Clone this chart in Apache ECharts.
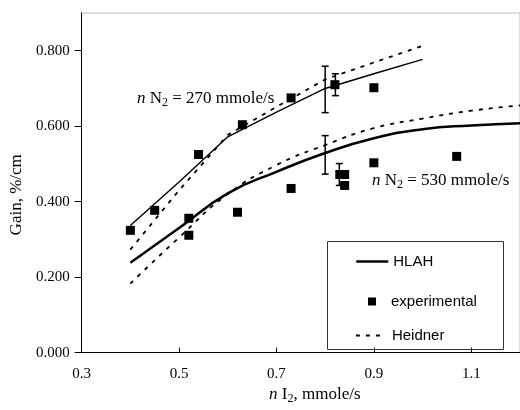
<!DOCTYPE html>
<html><head><meta charset="utf-8">
<script src="https://cdn.jsdelivr.net/npm/echarts@6/dist/echarts.min.js"></script>
<style>html,body{margin:0;padding:0;background:#fff}#c{width:520px;height:410px}</style>
</head><body><div id="c"></div>
<script>
// Tick labels
const xTicks = [0.3, 0.5, 0.7, 0.9, 1.1];
const yTicks = [0.0, 0.2, 0.4, 0.6, 0.8];

// HLAH model, n N2 = 270 mmole/s
const hlah270 = [[0.40,0.337],[0.50,0.452],[0.60,0.572],[0.70,0.637],[0.80,0.700],[0.90,0.739],[1.00,0.777]];
// Heidner model, n N2 = 270 mmole/s
const heidner270 = [[0.40,0.273],[0.50,0.430],[0.60,0.577],[0.70,0.651],[0.80,0.724],[0.90,0.769],[1.00,0.813]];
// HLAH model, n N2 = 530 mmole/s
const hlah530 = [[0.40,0.238],[0.50,0.330],[0.60,0.422],[0.70,0.479],[0.80,0.529],[0.90,0.568],[1.00,0.592],[1.10,0.602],[1.20,0.608]];
// Heidner model, n N2 = 530 mmole/s
const heidner530 = [[0.40,0.183],[0.50,0.305],[0.60,0.420],[0.70,0.497],[0.80,0.550],[0.90,0.595],[1.00,0.620],[1.10,0.641],[1.20,0.655]];
// Experimental points
const experimental = [[0.40,0.324],[0.45,0.377],[0.52,0.356],[0.52,0.311],[0.54,0.525],[0.62,0.372],[0.63,0.604],
  [0.73,0.675],[0.73,0.435],[0.82,0.710],[0.83,0.472],[0.84,0.472],[0.84,0.443],[0.90,0.702],[0.90,0.503],[1.07,0.520]];
// Error bars: [x, low, high]
const errorBars = [[0.80,0.636,0.759],[0.821,0.681,0.739],[0.80,0.473,0.575],[0.829,0.443,0.501]];

const serif = 'Liberation Serif';
const sans = 'Liberation Sans';
const subRich = {
  i: {fontStyle: 'italic', fontFamily: serif, fontSize: 17, lineHeight: 20, color: '#000'},
  t: {fontFamily: serif, fontSize: 17, lineHeight: 20, color: '#000'},
  s: {fontFamily: serif, fontSize: 12, lineHeight: 8, verticalAlign: 'bottom', color: '#000'}
};
const gRich = {
  i: {fontStyle: 'italic', fontFamily: serif, fontSize: 17, lineHeight: 20, fill: '#000'},
  t: {fontFamily: serif, fontSize: 17, lineHeight: 20, fill: '#000'},
  s: {fontFamily: serif, fontSize: 12, lineHeight: 8, verticalAlign: 'bottom', fill: '#000'}
};

const chart = echarts.init(document.getElementById('c'), null, {renderer: 'canvas'});
const legendText = {fontFamily: sans, fontSize: 15, color: '#000'};
const dash = [4, 6];
chart.setOption({
  animation: false,
  backgroundColor: '#fff',
  grid: {left: 80, top: 13, right: -7, bottom: 53, show: true, borderColor: '#bdbdbd', borderWidth: 1},
  xAxis: {
    type: 'value', min: 0.3, max: 1.2, interval: 0.2,
    name: '{i|n}{t| I}{s|2}{t|, mmole/s}', nameLocation: 'middle', nameGap: 24,
    nameTextStyle: {rich: subRich, padding: [0, 0, 0, 28]},
    axisLine: {show: true, onZero: false, lineStyle: {color: '#000', width: 1}},
    axisTick: {show: true, inside: true, length: 5, lineStyle: {color: '#000'}, customValues: xTicks},
    axisLabel: {customValues: xTicks, formatter: v => v.toFixed(1), fontFamily: serif, fontSize: 15, color: '#000', margin: 14},
    splitLine: {show: false}
  },
  yAxis: {
    type: 'value', min: 0, max: 0.9, interval: 0.2,
    name: 'Gain, %/cm', nameLocation: 'middle', nameGap: 44,
    nameTextStyle: {fontFamily: serif, fontSize: 17, color: '#000', padding: [0, 24, 0, 0]},
    axisLine: {show: true, onZero: false, lineStyle: {color: '#000', width: 1}},
    axisTick: {show: true, inside: false, length: 7, lineStyle: {color: '#000'}, customValues: yTicks},
    axisLabel: {customValues: yTicks, formatter: v => v.toFixed(3), fontFamily: serif, fontSize: 15, color: '#000', margin: 12},
    splitLine: {show: false}
  },
  legend: [
    {data: ['HLAH'], left: 355, top: 254, padding: 0, itemWidth: 32, itemHeight: 10, selectedMode: false,
      itemStyle: {opacity: 0}, lineStyle: {width: 2.5}, textStyle: legendText},
    {data: [{name: 'experimental', icon: 'rect'}], left: 368, top: 294, padding: 0, itemWidth: 8, itemHeight: 8, selectedMode: false,
      textStyle: Object.assign({padding: [0, 0, 0, 10]}, legendText)},
    {data: ['Heidner'], left: 355, top: 328, padding: 0, itemWidth: 27, itemHeight: 10, selectedMode: false,
      itemStyle: {opacity: 0}, lineStyle: {width: 1.8}, textStyle: Object.assign({padding: [0, 0, 0, 4]}, legendText)}
  ],
  graphic: [
    {type: 'rect', left: 327, top: 241, z: 0, shape: {width: 176, height: 108}, style: {fill: '#fff', stroke: '#333', lineWidth: 1}},
    {type: 'text', left: 137, top: 90, style: {text: '{i|n}{t| N}{s|2}{t| = 270 mmole/s}', rich: gRich}},
    {type: 'text', left: 372, top: 172, style: {text: '{i|n}{t| N}{s|2}{t| = 530 mmole/s}', rich: gRich}}
  ],
  series: [
    {name: 'HLAH', type: 'line', data: hlah530, symbol: 'none', showSymbol: false, smooth: 0.5,
      lineStyle: {color: '#000', width: 2.5}, itemStyle: {color: '#000'}, z: 3},
    {name: 'HLAH', type: 'line', data: hlah270, symbol: 'none', showSymbol: false, lineStyle: {color: '#000', width: 1.4}, itemStyle: {color: '#000'}, z: 3},
    {name: 'Heidner', type: 'line', data: heidner270, symbol: 'none', showSymbol: false, lineStyle: {color: '#000', width: 1.8, type: dash}, itemStyle: {color: '#000'}, z: 3},
    {name: 'Heidner', type: 'line', data: heidner530, symbol: 'none', showSymbol: false, smooth: 0.5,
      lineStyle: {color: '#000', width: 1.8, type: dash}, itemStyle: {color: '#000'}, z: 3},
    {name: 'experimental', type: 'scatter', data: experimental, symbol: 'rect', symbolSize: 9, itemStyle: {color: '#000', opacity: 1}, z: 4},
    {name: 'errors', type: 'custom', data: errorBars, encode: {x: 0, y: [1, 2]}, z: 5,
      renderItem: function (params, api) {
        const x = api.value(0);
        const pLo = api.coord([x, api.value(1)]);
        const pHi = api.coord([x, api.value(2)]);
        const w = 3.5;
        const st = {stroke: '#000', lineWidth: 1.5};
        return {type: 'group', children: [
          {type: 'line', shape: {x1: pLo[0], y1: pLo[1], x2: pHi[0], y2: pHi[1]}, style: st},
          {type: 'line', shape: {x1: pLo[0] - w, y1: pLo[1], x2: pLo[0] + w, y2: pLo[1]}, style: st},
          {type: 'line', shape: {x1: pHi[0] - w, y1: pHi[1], x2: pHi[0] + w, y2: pHi[1]}, style: st}
        ]};
      }
    }
  ]
});
</script>
</body></html>
